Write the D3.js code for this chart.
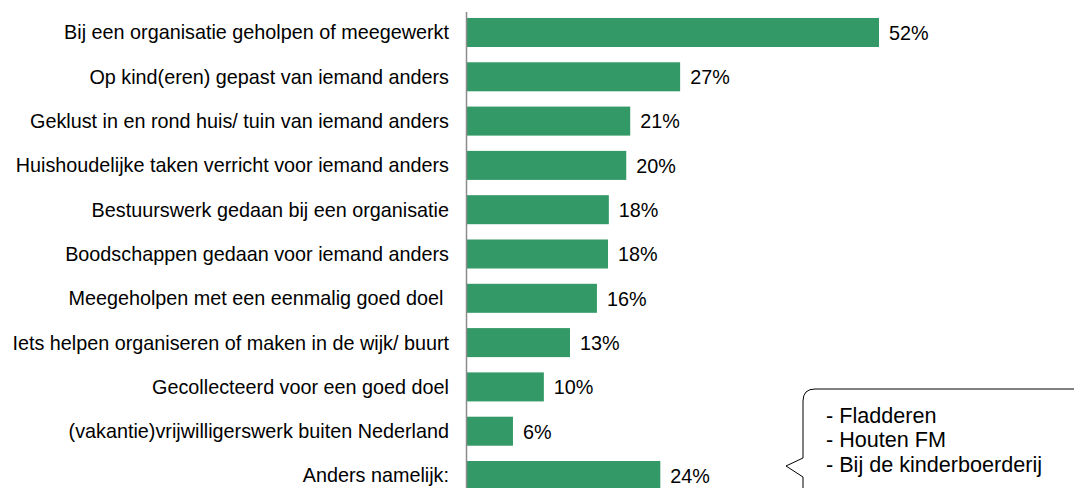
<!DOCTYPE html>
<html><head><meta charset="utf-8">
<script src="https://cdn.jsdelivr.net/npm/d3@7"></script>
<style>body{margin:0;background:#fff;overflow:hidden}svg{display:block}text{font-family:"Liberation Sans",Arial,sans-serif;fill:#000;white-space:pre}</style>
</head><body><svg id="c" width="1075" height="488"></svg>
<script>
const categories = [
  "Bij een organisatie geholpen of meegewerkt",
  "Op kind(eren) gepast van iemand anders",
  "Geklust in en rond huis/ tuin van iemand anders",
  "Huishoudelijke taken verricht voor iemand anders",
  "Bestuurswerk gedaan bij een organisatie",
  "Boodschappen gedaan voor iemand anders",
  "Meegeholpen met een eenmalig goed doel ",
  "Iets helpen organiseren of maken in de wijk/ buurt",
  "Gecollecteerd voor een goed doel",
  "(vakantie)vrijwilligerswerk buiten Nederland",
  "Anders namelijk:"
];
const values = [52.0, 26.9, 20.6, 20.1, 17.9, 17.8, 16.4, 13.0, 9.7, 5.8, 24.4];
const valueLabels = ["52%","27%","21%","20%","18%","18%","16%","13%","10%","6%","24%"];
const calloutLines = ["- Fladderen", "- Houten FM", "- Bij de kinderboerderij"];

const svg = d3.select("#c");
const x = d3.scaleLinear().domain([0, 52]).range([467, 879]);
const y = d3.scaleBand().domain(categories).range([10, 498]).paddingInner(0.345).paddingOuter(0.18);

svg.selectAll("rect.bar").data(categories).join("rect")
  .attr("class","bar")
  .attr("x", x(0))
  .attr("y", d => y(d))
  .attr("width", (d,i) => x(values[i]) - x(0))
  .attr("height", y.bandwidth())
  .attr("fill", "#339966");

svg.append("line").attr("x1", 466.5).attr("x2", 466.5).attr("y1", 12).attr("y2", 488)
  .attr("stroke", "#8c8c8c").attr("stroke-width", 1.5);

svg.selectAll("text.cat").data(categories).join("text")
  .attr("class","cat")
  .attr("x", 449)
  .attr("y", d => y(d) + y.bandwidth()/2)
  .attr("dy", "0.35em")
  .attr("text-anchor", "end")
  .attr("font-size", 19.8)
  .text(d => d);

svg.selectAll("text.val").data(categories).join("text")
  .attr("class","val")
  .attr("x", (d,i) => x(values[i]) + 10)
  .attr("y", d => y(d) + y.bandwidth()/2)
  .attr("dy", "0.37em")
  .attr("font-size", 19.8)
  .text((d,i) => valueLabels[i]);

// callout
svg.append("path")
  .attr("d", "M803,490 L803,477 L786,466 L803,458 L803,401 Q803,389 815,389 L1074,389")
  .attr("fill", "#fff").attr("stroke", "#000").attr("stroke-width", 1);
svg.selectAll("text.co").data(calloutLines).join("text")
  .attr("class","co")
  .attr("x", 826)
  .attr("y", (d,i) => 415 + i*24.5)
  .attr("dy", "0.35em")
  .attr("font-size", 21.6)
  .text(d => d);
</script></body></html>
